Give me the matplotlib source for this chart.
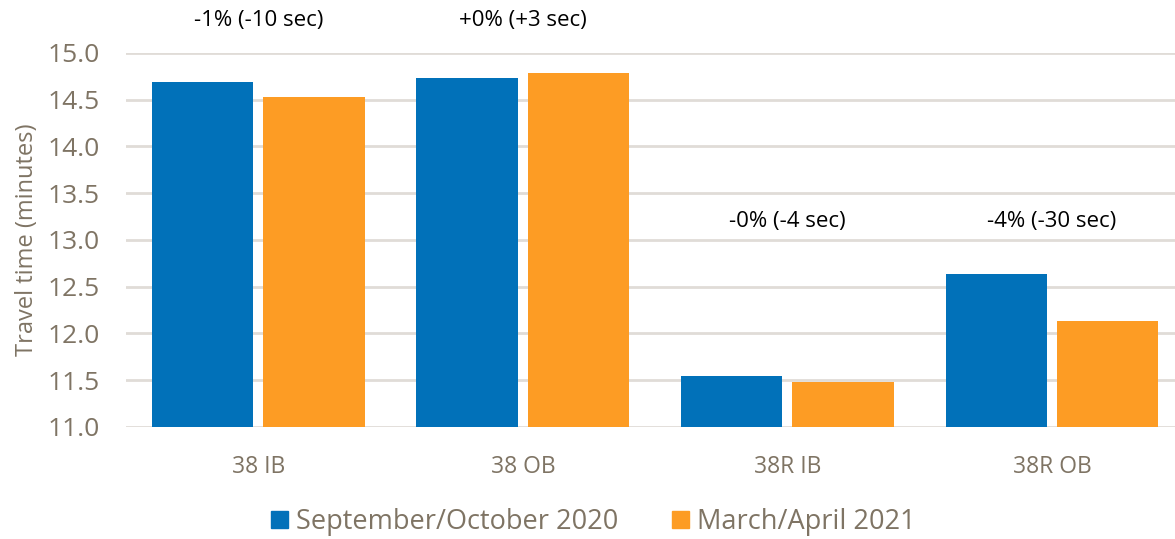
import matplotlib.pyplot as plt
from matplotlib.patches import Patch
import numpy as np

# data
routes = ['38 IB', '38 OB', '38R IB', '38R OB']
fall_2020 = [14.69, 14.73, 11.54, 12.63]
spring_2021 = [14.53, 14.78, 11.48, 12.13]
change_labels = ['-1% (-10 sec)', '+0% (+3 sec)', '-0% (-4 sec)', '-4% (-30 sec)']
label_y = [15.34, 15.34, 13.2, 13.2]
series_names = ['September/October 2020', 'March/April 2021']

blue = '#0171B9'
orange = '#FD9C24'
grey = '#7F7464'
grid = '#E0DCD7'

plt.rcParams['font.family'] = ['Open Sans', 'DejaVu Sans']

fig = plt.figure(figsize=(11.75, 5.39), dpi=100)
ax = fig.add_axes([126/1175, 112/539, 1 - 126/1175, 0.6944])

x = np.arange(len(routes))
w = 0.383
gap = 0.038
ax.bar(x - (w + gap)/2, fall_2020, w, color=blue, zorder=3)
ax.bar(x + (w + gap)/2, spring_2021, w, color=orange, zorder=3)

ax.set_ylim(11, 15)
ax.set_xlim(-0.5, 3.465)
ax.set_yticks(np.arange(11, 15.01, 0.5))
ax.set_yticklabels(['%.1f' % v for v in np.arange(11, 15.01, 0.5)])
ax.yaxis.grid(True, color=grid, lw=2, zorder=0)
ax.set_axisbelow(True)
for s in ax.spines.values():
    s.set_visible(False)
ax.tick_params(axis='y', length=0, pad=19, labelsize=19, labelcolor=grey)
ax.set_xticks(x)
ax.set_xticklabels(routes)
ax.tick_params(axis='x', length=0, pad=20, labelsize=16.5, labelcolor=grey)
ax.set_ylabel('Travel time (minutes)', fontsize=17, color=grey, labelpad=6)

for xi, txt, yy in zip(x, change_labels, label_y):
    ax.text(xi, yy, txt, ha='center', va='center', fontsize=16, color='black', clip_on=False)

handles = [Patch(color=blue, label=series_names[0]), Patch(color=orange, label=series_names[1])]
leg = fig.legend(handles=handles, loc='lower center', bbox_to_anchor=(0.505, -0.04), ncol=2,
                 frameon=False, fontsize=19.5, handlelength=0.6, handleheight=0.6,
                 handletextpad=0.3, columnspacing=2.0)
for t in leg.get_texts():
    t.set_color(grey)

fig.savefig('out.png', dpi=100)
